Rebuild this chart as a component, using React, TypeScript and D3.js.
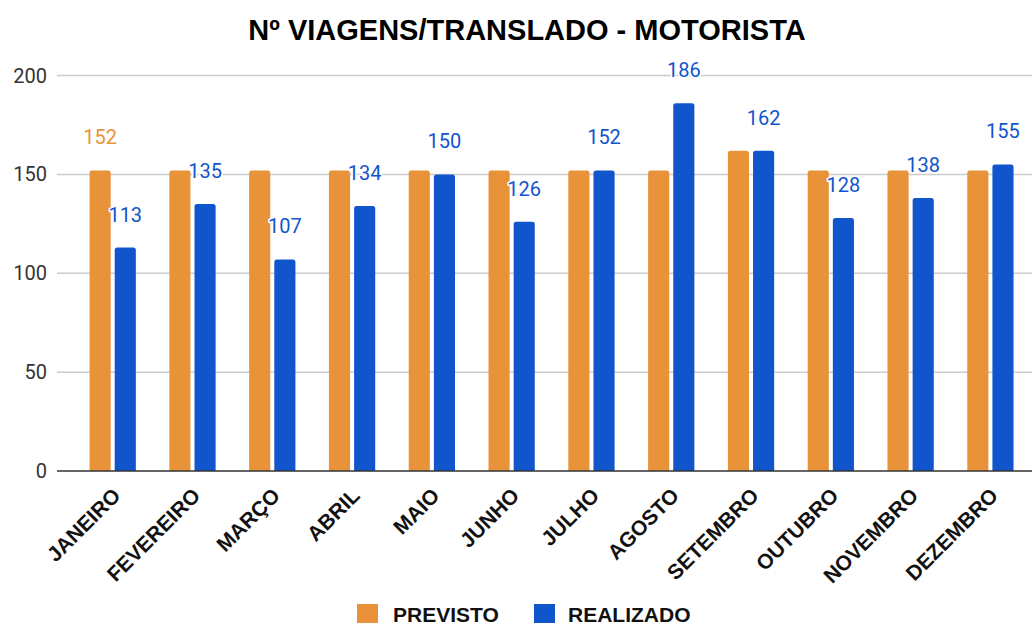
import React from "react";
import * as d3 from "d3";

const title = "Nº VIAGENS/TRANSLADO - MOTORISTA";
const months = ["JANEIRO", "FEVEREIRO", "MARÇO", "ABRIL", "MAIO", "JUNHO", "JULHO", "AGOSTO", "SETEMBRO", "OUTUBRO", "NOVEMBRO", "DEZEMBRO"];
const previsto = [152, 152, 152, 152, 152, 152, 152, 152, 162, 152, 152, 152];
const realizado = [113, 135, 107, 134, 150, 126, 152, 186, 162, 128, 138, 155];
const previstoLabelShown = [true, false, false, false, false, false, false, false, false, false, false, false];
const yTicks = [0, 50, 100, 150, 200];
const seriesNames = ["PREVISTO", "REALIZADO"];
const colors = ["#e8923a", "#1155cc"];

const W = 1033;
const H = 625;

function topRoundedBar(x: number, y: number, w: number, h: number, r: number) {
  const rr = Math.min(r, h / 2, w / 2);
  return `M${x},${y + h}V${y + rr}Q${x},${y} ${x + rr},${y}H${x + w - rr}Q${x + w},${y} ${x + w},${y + rr}V${y + h}Z`;
}

export default function App() {
  const y = d3.scaleLinear().domain([0, 200]).range([471, 75.5]);
  const x0 = d3.scaleBand<string>().domain(months).range([72.8, 1030.3]).paddingInner(0.42).paddingOuter(0.21);
  const x1 = d3.scaleBand<string>().domain(seriesNames).range([0, x0.bandwidth()]).paddingInner(0.16);
  const gridLeft = 57;
  const gridRight = 1032;
  const numFont = "Roboto, 'Liberation Sans', Arial, sans-serif";
  const boldFont = "'Liberation Sans', Arial, sans-serif";

  return (
    <svg width={W} height={H} style={{ position: "absolute", left: 0, top: 0, background: "#fff" }}>
      <rect x={0} y={0} width={W} height={H} fill="#fff" />
      <text x={527} y={40} textAnchor="middle" fontFamily={boldFont} fontWeight="bold" fontSize={29} fill="#000">
        {title}
      </text>
      {yTicks.map((t) => (
        <g key={t}>
          {t !== 0 && (
            <line x1={gridLeft} x2={gridRight} y1={y(t)} y2={y(t)} stroke="#cccccc" strokeWidth={1.5} />
          )}
          <text x={47} y={y(t) + 7} textAnchor="end" fontFamily={numFont} fontSize={20} fill="#333">
            {t}
          </text>
        </g>
      ))}
      {months.map((m, i) => {
        const gx = x0(m)!;
        const vals = [previsto[i], realizado[i]];
        return (
          <g key={m}>
            {vals.map((v, s) => {
              const bx = gx + x1(seriesNames[s])!;
              const bw = x1.bandwidth();
              return (
                <path key={s} d={topRoundedBar(bx, y(v), bw, y(0) - y(v), 2.5)} fill={colors[s]} />
              );
            })}
          </g>
        );
      })}
      <line x1={gridLeft} x2={gridRight} y1={y(0)} y2={y(0)} stroke="#333" strokeWidth={1.5} />
      {months.map((m, i) => {
        const gx = x0(m)!;
        const labels: any[] = [];
        const vals = [previsto[i], realizado[i]];
        vals.forEach((v, s) => {
          if (s === 0 && !previstoLabelShown[i]) return;
          const cx = gx + x1(seriesNames[s])! + x1.bandwidth() / 2;
          labels.push(
            <text
              key={s}
              x={cx}
              y={y(v) - 26}
              textAnchor="middle"
              fontFamily={numFont}
              fontSize={20}
              fill={colors[s]}
              stroke="#fff"
              strokeWidth={3}
              paintOrder="stroke"
              strokeLinejoin="round"
            >
              {v}
            </text>
          );
        });
        return <g key={m}>{labels}</g>;
      })}
      {months.map((m) => {
        const cx = x0(m)! + x0.bandwidth() / 2;
        return (
          <text
            key={m}
            transform={`translate(${cx + 9},${497}) rotate(-45)`}
            textAnchor="end"
            fontFamily={boldFont}
            fontWeight="bold"
            fontSize={21}
            fill="#111"
          >
            {m}
          </text>
        );
      })}
      <g>
        <rect x={357} y={604} width={21} height={19} fill={colors[0]} />
        <text x={393} y={622} fontFamily={boldFont} fontWeight="bold" fontSize={21} fill="#111">
          {seriesNames[0]}
        </text>
        <rect x={534} y={604} width={21} height={19} fill={colors[1]} />
        <text x={568} y={622} fontFamily={boldFont} fontWeight="bold" fontSize={21} fill="#111">
          {seriesNames[1]}
        </text>
      </g>
    </svg>
  );
}
